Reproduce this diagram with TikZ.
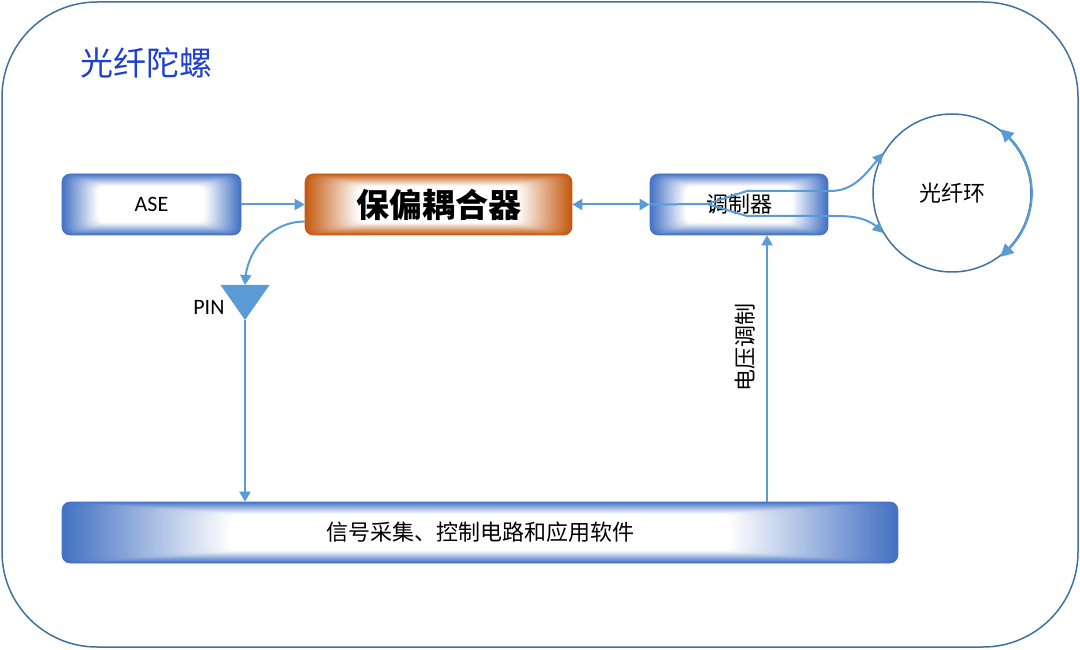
\documentclass[tikz,border=0pt]{standalone}
\usepackage{fontspec}
\setmainfont{Carlito}
\newfontfamily\cjk{Noto Sans CJK SC}
\usepackage{xcolor}
\usetikzlibrary{arrows.meta, bending, calc, positioning}

\definecolor{boxblue}{HTML}{4472C4}
\definecolor{boxorange}{HTML}{C55A11}
\definecolor{linkblue}{HTML}{5B9BD5}
\definecolor{framecol}{HTML}{41719C}
\definecolor{titleblue}{HTML}{1F3FD0}

\tikzset{
  glow/.style={draw=#1, line width=0.6pt, rounded corners=8pt, minimum height=61pt, inner sep=0pt,
    path picture={
      \foreach \i [evaluate=\i as \p using 100-2.5*\i] in {0,...,40}
        \fill[#1!\p!white] ($(path picture bounding box.south west)!\i/200!(path picture bounding box.north east)$)
          rectangle ($(path picture bounding box.north east)!\i/200!(path picture bounding box.south west)$);
    }},
  link/.style={linkblue, line width=2pt},
  txt/.style={font=\fontsize{22}{26}\selectfont},
}

\begin{document}
\begin{tikzpicture}[x=1pt, y=1pt, >={Triangle[length=10pt, width=11pt]}]
  \useasboundingbox (0,0) rectangle (1080,649);
  \draw[framecol, line width=1.5pt, rounded corners=95pt] (2,2) rectangle (1078,647);
  \node[anchor=west, titleblue, font=\fontsize{33}{36}\selectfont] (title) at (77,586) {\cjk 光纤陀螺};

  % boxes
  \node[glow=boxblue, minimum width=179pt, txt] (ase) at (151.5,444.5) {ASE};
  \node[glow=boxorange, minimum width=267pt, font=\fontsize{33}{36}\selectfont] (coupler) at (438.5,444.5) {\cjk\bfseries 保偏耦合器};
  \node[glow=boxblue, minimum width=178pt, txt] (mod) at (739,444.5) {\cjk 调制器};
  \node[draw=framecol, line width=1.5pt, circle, minimum size=158pt, inner sep=0pt, txt] (ring) at (952,456) {\cjk 光纤环};
  \node[glow=boxblue, minimum width=836pt, txt] (bottom) at (480,116.5) {\cjk 信号采集、控制电路和应用软件};

  % PIN
  \coordinate (pintop) at (245,364);
  \coordinate (pinapex) at (245,329);
  \fill[linkblue] ([xshift=-24.5pt]pintop) -- ([xshift=24.5pt]pintop) -- (pinapex) -- cycle;
  \node[txt, anchor=east] (pinlabel) at (228,342) {PIN};

  % links
  \draw[link, ->] (ase) -- (coupler);
  \draw[link, <->] (coupler) -- (mod);
  \draw[link, ->] ([yshift=-17pt]coupler.west) to[out=180, in=90] (pintop);
  \draw[link, ->] (pinapex) -- (pinapex |- bottom.north);

  \coordinate (split) at (707,445);
  \draw[link] (mod.west) -- (split);
  \draw[link, ->] (split) -- (747,458) -- (830,458) to[out=0, in=230] (ring.150);
  \draw[link, ->] (split) -- (747,433) -- (830,433) to[out=0, in=130] (ring.210);
  \draw[link, line width=2.2pt, {Triangle[length=13pt, width=13pt, bend]}-{Triangle[length=13pt, width=13pt, bend]}]
    (ring.-53) arc[start angle=-53, end angle=53, radius=79.75pt];

  \coordinate (vtop) at ([xshift=28pt]mod.south);
  \draw[link, ->] (vtop |- bottom.north) -- (vtop);
  \node[txt, rotate=90] (vlabel) at (745,302) {\cjk 电压调制};
\end{tikzpicture}
\end{document}
